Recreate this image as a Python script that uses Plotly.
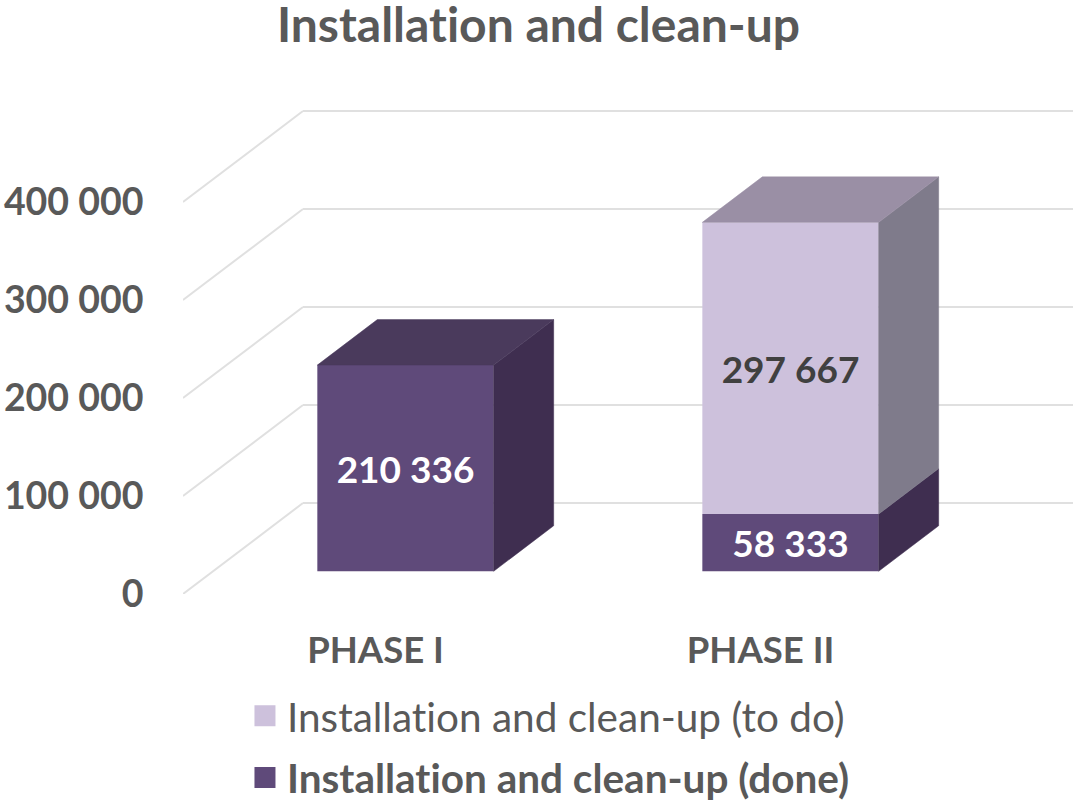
import plotly.graph_objects as go

title = "Installation and clean-up"
categories = ["PHASE I", "PHASE II"]
done = [210336, 58333]
todo = [0, 297667]
done_labels = ["210 336", "58 333"]
todo_labels = ["", "297 667"]
tick_values = [0, 100000, 200000, 300000, 400000]
tick_labels = ["0", "100 000", "200 000", "300 000", "400 000"]
name_todo = "Installation and clean-up (to do)"
name_done = "Installation and clean-up (done)"

C_DONE, C_DONE_SIDE, C_DONE_TOP = "#5F4A7A", "#3F2E50", "#4A3A5C"
C_TODO, C_TODO_SIDE, C_TODO_TOP = "#CDC1DC", "#7F7B8B", "#9A8FA5"
C_GRID, C_TEXT = "#E0E0E0", "#595959"
FONT = "Lato, Carlito, sans-serif"

# Oblique projection of the depth axis, expressed in axis units
DEPTH_X = 120 / 385
DEPTH_Y = 91 * 100000 / 98
BAR_W = 0.458


def proj(cat, value, depth):
    return cat + depth * DEPTH_X, value + depth * DEPTH_Y


def poly(points, color):
    xs, ys = zip(*points)
    return go.Scatter(x=list(xs) + [xs[0]], y=list(ys) + [ys[0]], mode="lines", fill="toself",
                      fillcolor=color, line=dict(width=0.5, color=color),
                      showlegend=False, hoverinfo="skip")


fig = go.Figure()

# Legend entries
for name, color in ((name_todo, C_TODO), ("<b>" + name_done + "</b>", C_DONE)):
    fig.add_trace(go.Scatter(x=[None], y=[None], mode="markers", name=name, legendgroup=name,
                             marker=dict(symbol="square", size=16, color=color,
                                         line=dict(width=5, color=color))))

# Front faces
F, B = 0.25, 0.75
cats = list(range(len(categories)))
fx = [c + F * DEPTH_X for c in cats]
fig.add_trace(go.Bar(x=fx, y=done, base=[F * DEPTH_Y] * 2, width=BAR_W, marker=dict(color=C_DONE, line_width=0),
                     text=done_labels, textposition="inside", insidetextanchor="middle", textangle=0,
                     constraintext="none", insidetextfont=dict(color="white", size=37, family=FONT, weight="bold"),
                     showlegend=False, name=name_done))
fig.add_trace(go.Bar(x=fx, y=todo, base=[F * DEPTH_Y + d for d in done], width=BAR_W,
                     marker=dict(color=C_TODO, line_width=0),
                     text=todo_labels, textposition="inside", insidetextanchor="middle", textangle=0,
                     constraintext="none", insidetextfont=dict(color="#404040", size=37, family=FONT, weight="bold"),
                     showlegend=False, name=name_todo))

# Side and top faces
for c, d, t in zip(cats, done, todo):
    L, R = c - BAR_W / 2, c + BAR_W / 2
    total = d + t
    fig.add_trace(poly([proj(R, 0, F), proj(R, d, F), proj(R, d, B), proj(R, 0, B)], C_DONE_SIDE))
    if t:
        fig.add_trace(poly([proj(R, d, F), proj(R, total, F), proj(R, total, B), proj(R, d, B)], C_TODO_SIDE))
    fig.add_trace(poly([proj(L, total, F), proj(R, total, F), proj(R, total, B), proj(L, total, B)],
                       C_TODO_TOP if t else C_DONE_TOP))

# Walls: gridlines on the left wall and the back wall
shapes = []
x0, x1 = -0.5, 1.5
for v in tick_values:
    px, py = proj(x0, v, 1)
    ex, ey = proj(x1, v, 1)
    base = dict(type="line", xref="x", yref="y", layer="below", line=dict(color=C_GRID, width=2))
    shapes.append(dict(base, x0=x0, y0=v, x1=px, y1=py))
    shapes.append(dict(base, x0=px, y0=py, x1=ex, y1=ey))

fig.update_layout(
    width=1077, height=802, autosize=False, paper_bgcolor="white", plot_bgcolor="white",
    margin=dict(l=183, r=4, t=100, b=208, autoexpand=False),
    barmode="overlay", shapes=shapes, showlegend=True,
    font=dict(family=FONT, color=C_TEXT),
    title=dict(text="<b>" + title + "</b>", x=0.5, xanchor="center", y=0.9688, yanchor="middle",
               font=dict(size=48, color=C_TEXT, family=FONT)),
    xaxis=dict(range=[x0, x1 + DEPTH_X], tickmode="array", tickvals=cats, ticktext=categories,
               automargin=False, tickangle=0,
               showgrid=False, zeroline=False, showline=False, ticks="outside", ticklen=24,
               tickcolor="rgba(0,0,0,0)", tickfont=dict(size=36.5, color=C_TEXT, family=FONT, weight="bold")),
    yaxis=dict(range=[0, 494 * 100000 / 98], tickmode="array", tickvals=tick_values, ticktext=tick_labels,
               automargin=False,
               showgrid=False, zeroline=False, showline=False, ticks="outside", ticklen=31,
               tickcolor="rgba(0,0,0,0)", tickfont=dict(size=37.5, color=C_TEXT, family=FONT, weight="bold")),
    legend=dict(x=0.2256, xref="container", y=0.1484, yref="container", yanchor="top", xanchor="left",
                orientation="v", font=dict(size=40.5, color=C_TEXT, family=FONT), tracegroupgap=6,
                itemwidth=34, bgcolor="rgba(0,0,0,0)"),
)
page_css = ("var s=document.createElement('style');"
            "s.textContent='body{margin:0;} .js-plotly-plot text{font-variant-ligatures:none !important;}';"
            "document.head.appendChild(s);")
fig.write_html("out.html", post_script=page_css, config={"displayModeBar": False})
